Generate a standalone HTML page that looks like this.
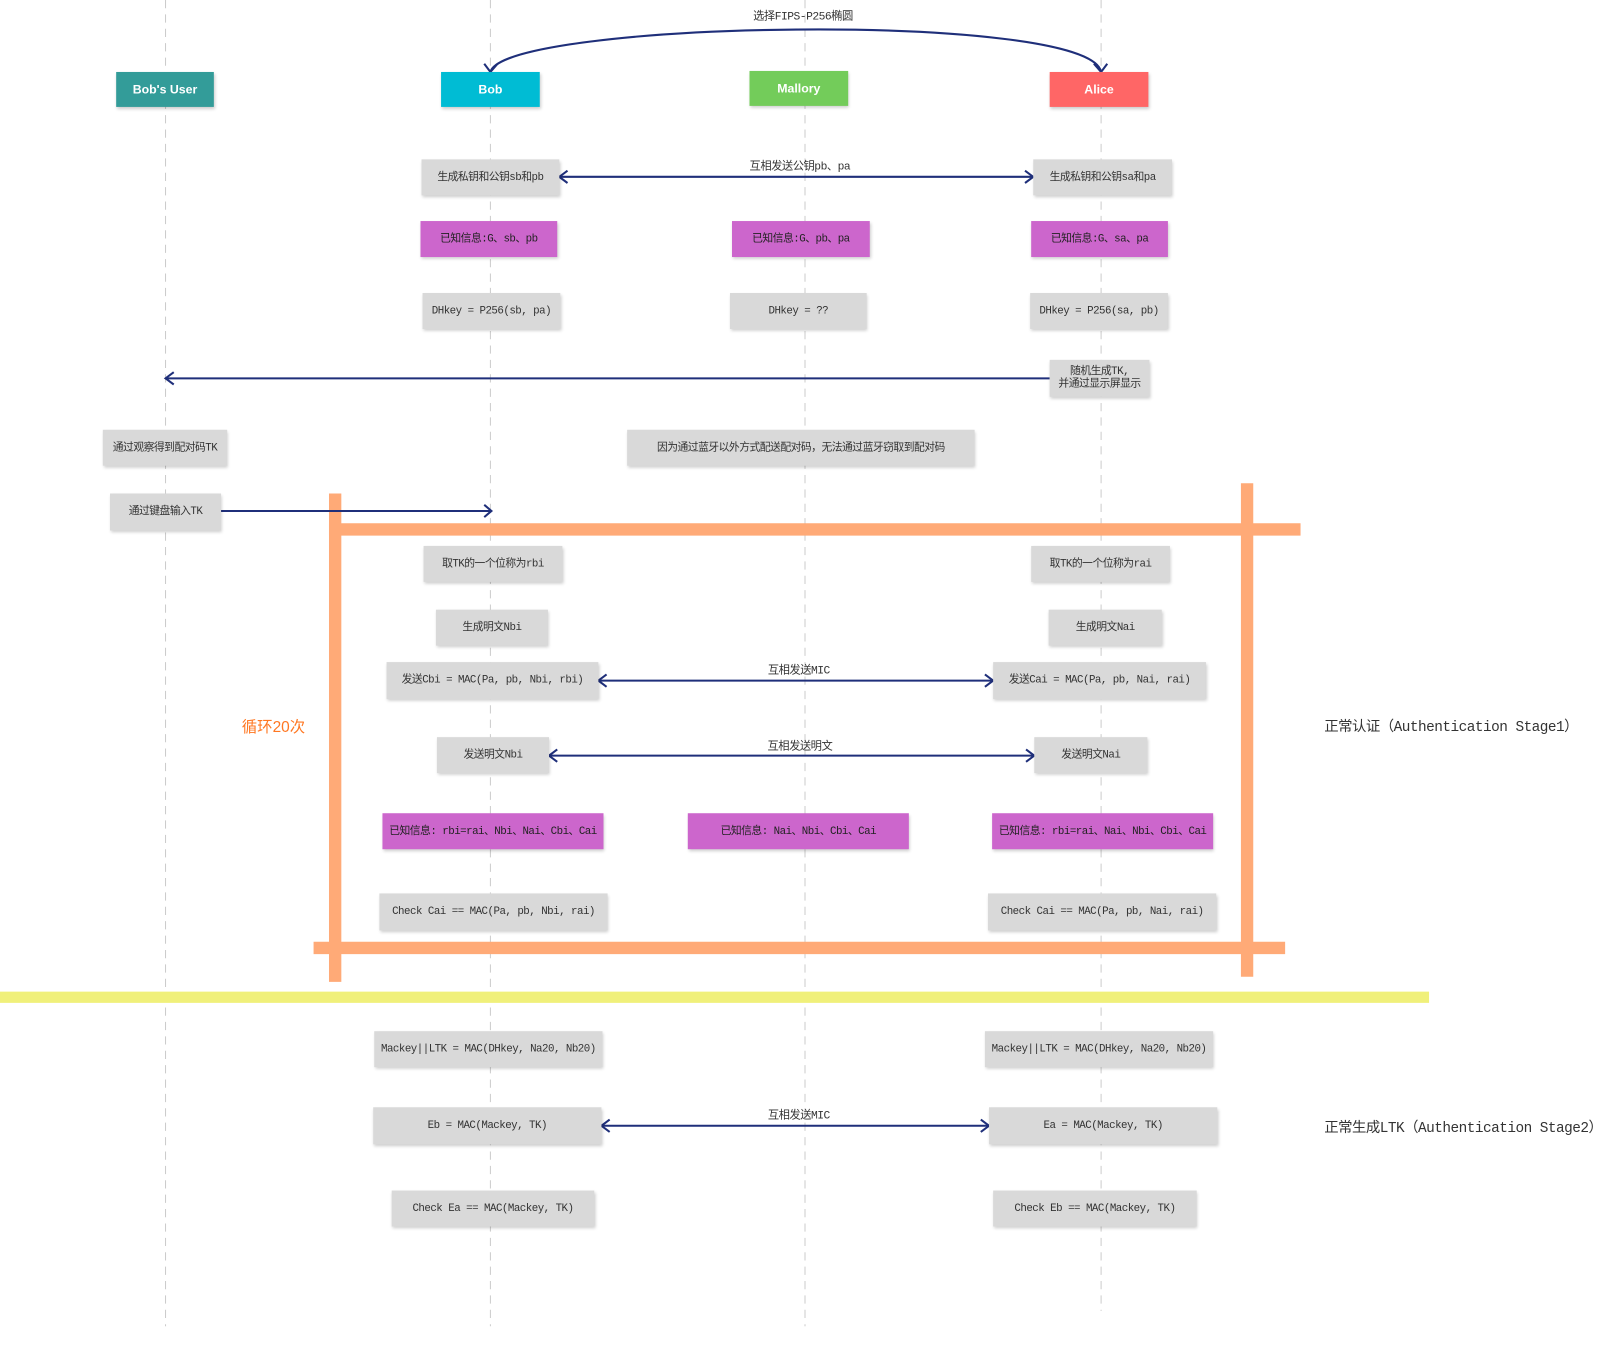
<!DOCTYPE html>
<html><head><meta charset="utf-8"><style>
body{margin:0;width:1611px;height:1330px;background:#fff;position:relative;overflow:hidden;font-family:"Liberation Sans","Noto Sans CJK SC",sans-serif}
#w{position:absolute;left:0;top:0;width:1611px;height:1330px;transform:scale(1.0281);transform-origin:0 0}
.b{position:absolute;display:flex;align-items:center;justify-content:center;background:#d9d9d9;color:#333;font-size:10.5px;box-shadow:1px 2px 3px rgba(0,0,0,.2);text-align:center;line-height:12px;white-space:nowrap;font-family:"Liberation Mono","Noto Sans CJK SC",monospace;letter-spacing:-0.5px}
.p{background:#cc66cc;color:#222}
.h{font-family:"Liberation Sans",sans-serif;font-weight:bold;color:#fff;font-size:12px;box-shadow:1px 2px 3px rgba(0,0,0,.2);letter-spacing:0}
.t{position:absolute;font-size:11px;color:#333;white-space:nowrap;transform:translateX(-50%);font-family:"Liberation Mono","Noto Sans CJK SC",monospace;letter-spacing:-0.5px}
svg{position:absolute;left:0;top:0}
</style></head><body><div id="w">
<svg width="1611" height="1330">
<g stroke="#ccc" stroke-width="1" stroke-dasharray="8,6">
<line x1="161" y1="0" x2="161" y2="1290"/><line x1="477" y1="0" x2="477" y2="1290"/><line x1="783" y1="0" x2="783" y2="1290"/><line x1="1071" y1="0" x2="1071" y2="1275"/>
</g>
<g stroke="#ffaa77" stroke-width="12" fill="none">
<line x1="320" y1="515" x2="1265" y2="515"/>
<line x1="305" y1="922" x2="1250" y2="922"/>
<line x1="326" y1="480" x2="326" y2="955"/>
<line x1="1213" y1="470" x2="1213" y2="950"/>
</g>
<line x1="0" y1="970" x2="1390" y2="970" stroke="#f0f07a" stroke-width="11"/>
<g stroke="#1f2f7a" stroke-width="2" fill="none">
<path d="M477,70 C490,20 1060,10 1071,70"/>
<path d="M471,62 L477,70 L484,62"/><path d="M1064,62 L1071,70 L1077,62"/>
<line x1="544" y1="172" x2="1005" y2="172"/><path d="M552,166 L544,172 L552,178"/><path d="M997,166 L1005,172 L997,178"/>
<line x1="161" y1="368" x2="1021" y2="368"/><path d="M169,362 L161,368 L169,374"/>
<line x1="215" y1="497" x2="478" y2="497"/><path d="M471,491 L478,497 L471,503"/>
<line x1="582" y1="662" x2="966" y2="662"/><path d="M590,656 L582,662 L590,668"/><path d="M958,656 L966,662 L958,668"/>
<line x1="534" y1="735" x2="1006" y2="735"/><path d="M542,729 L534,735 L542,741"/><path d="M998,729 L1006,735 L998,741"/>
<line x1="585" y1="1095" x2="962" y2="1095"/><path d="M593,1089 L585,1095 L593,1101"/><path d="M954,1089 L962,1095 L954,1101"/>
</g>
</svg>
<div class="t" style="left:781px;top:7px">选择FIPS-P256椭圆</div>
<div class="b h" style="left:113px;top:70px;width:95px;height:34px;background:#339c99">Bob's User</div>
<div class="b h" style="left:429px;top:70px;width:96px;height:34px;background:#00bcd4">Bob</div>
<div class="b h" style="left:729px;top:69px;width:96px;height:34px;background:#73cc5a">Mallory</div>
<div class="b h" style="left:1021px;top:70px;width:96px;height:34px;background:#ff6666">Alice</div>
<div class="t" style="left:778px;top:153px">互相发送公钥pb、pa</div>
<div class="b" style="left:410px;top:155px;width:134px;height:35px">生成私钥和公钥sb和pb</div>
<div class="b" style="left:1005px;top:155px;width:135px;height:35px">生成私钥和公钥sa和pa</div>
<div class="b p" style="left:409px;top:215px;width:133px;height:35px">已知信息:G、sb、pb</div>
<div class="b p" style="left:712px;top:215px;width:134px;height:35px">已知信息:G、pb、pa</div>
<div class="b p" style="left:1003px;top:215px;width:133px;height:35px">已知信息:G、sa、pa</div>
<div class="b" style="left:411px;top:285px;width:134px;height:35px">DHkey = P256(sb, pa)</div>
<div class="b" style="left:710px;top:285px;width:133px;height:35px">DHkey = ??</div>
<div class="b" style="left:1002px;top:285px;width:134px;height:35px">DHkey = P256(sa, pb)</div>
<div class="b" style="left:1021px;top:350px;width:97px;height:36px">随机生成TK,<br>并通过显示屏显示</div>
<div class="b" style="left:100px;top:418px;width:121px;height:35px">通过观察得到配对码TK</div>
<div class="b" style="left:610px;top:418px;width:338px;height:35px">因为通过蓝牙以外方式配送配对码，无法通过蓝牙窃取到配对码</div>
<div class="b" style="left:107px;top:480px;width:108px;height:36px">通过键盘输入TK</div>
<div class="b" style="left:412px;top:531px;width:135px;height:35px">取TK的一个位称为rbi</div>
<div class="b" style="left:1003px;top:531px;width:135px;height:35px">取TK的一个位称为rai</div>
<div class="b" style="left:424px;top:593px;width:109px;height:35px">生成明文Nbi</div>
<div class="b" style="left:1020px;top:593px;width:110px;height:35px">生成明文Nai</div>
<div class="t" style="left:777px;top:643px">互相发送MIC</div>
<div class="b" style="left:376px;top:644px;width:206px;height:36px">发送Cbi = MAC(Pa, pb, Nbi, rbi)</div>
<div class="b" style="left:966px;top:644px;width:207px;height:36px">发送Cai = MAC(Pa, pb, Nai, rai)</div>
<div class="t" style="left:266px;top:696px;color:#ff7722;font-size:15px;font-family:'Liberation Sans','Noto Sans CJK SC',sans-serif;letter-spacing:0">循环20次</div>
<div class="t" style="left:1288px;top:696px;transform:none;font-size:14px">正常认证（Authentication Stage1）</div>
<div class="t" style="left:778px;top:717px">互相发送明文</div>
<div class="b" style="left:425px;top:717px;width:109px;height:35px">发送明文Nbi</div>
<div class="b" style="left:1006px;top:717px;width:110px;height:35px">发送明文Nai</div>
<div class="b p" style="left:372px;top:791px;width:215px;height:35px">已知信息: rbi=rai、Nbi、Nai、Cbi、Cai</div>
<div class="b p" style="left:669px;top:791px;width:215px;height:35px">已知信息: Nai、Nbi、Cbi、Cai</div>
<div class="b p" style="left:965px;top:791px;width:215px;height:35px">已知信息: rbi=rai、Nai、Nbi、Cbi、Cai</div>
<div class="b" style="left:369px;top:869px;width:222px;height:36px">Check Cai == MAC(Pa, pb, Nbi, rai)</div>
<div class="b" style="left:961px;top:869px;width:222px;height:36px">Check Cai == MAC(Pa, pb, Nai, rai)</div>
<div class="b" style="left:364px;top:1003px;width:222px;height:35px">Mackey||LTK = MAC(DHkey, Na20, Nb20)</div>
<div class="b" style="left:958px;top:1003px;width:222px;height:35px">Mackey||LTK = MAC(DHkey, Na20, Nb20)</div>
<div class="t" style="left:777px;top:1076px">互相发送MIC</div>
<div class="b" style="left:363px;top:1077px;width:222px;height:36px">Eb = MAC(Mackey, TK)</div>
<div class="b" style="left:962px;top:1077px;width:222px;height:36px">Ea = MAC(Mackey, TK)</div>
<div class="t" style="left:1288px;top:1086px;transform:none;font-size:14px">正常生成LTK（Authentication Stage2）</div>
<div class="b" style="left:381px;top:1158px;width:197px;height:35px">Check Ea == MAC(Mackey, TK)</div>
<div class="b" style="left:966px;top:1158px;width:198px;height:35px">Check Eb == MAC(Mackey, TK)</div>
</div></body></html>
